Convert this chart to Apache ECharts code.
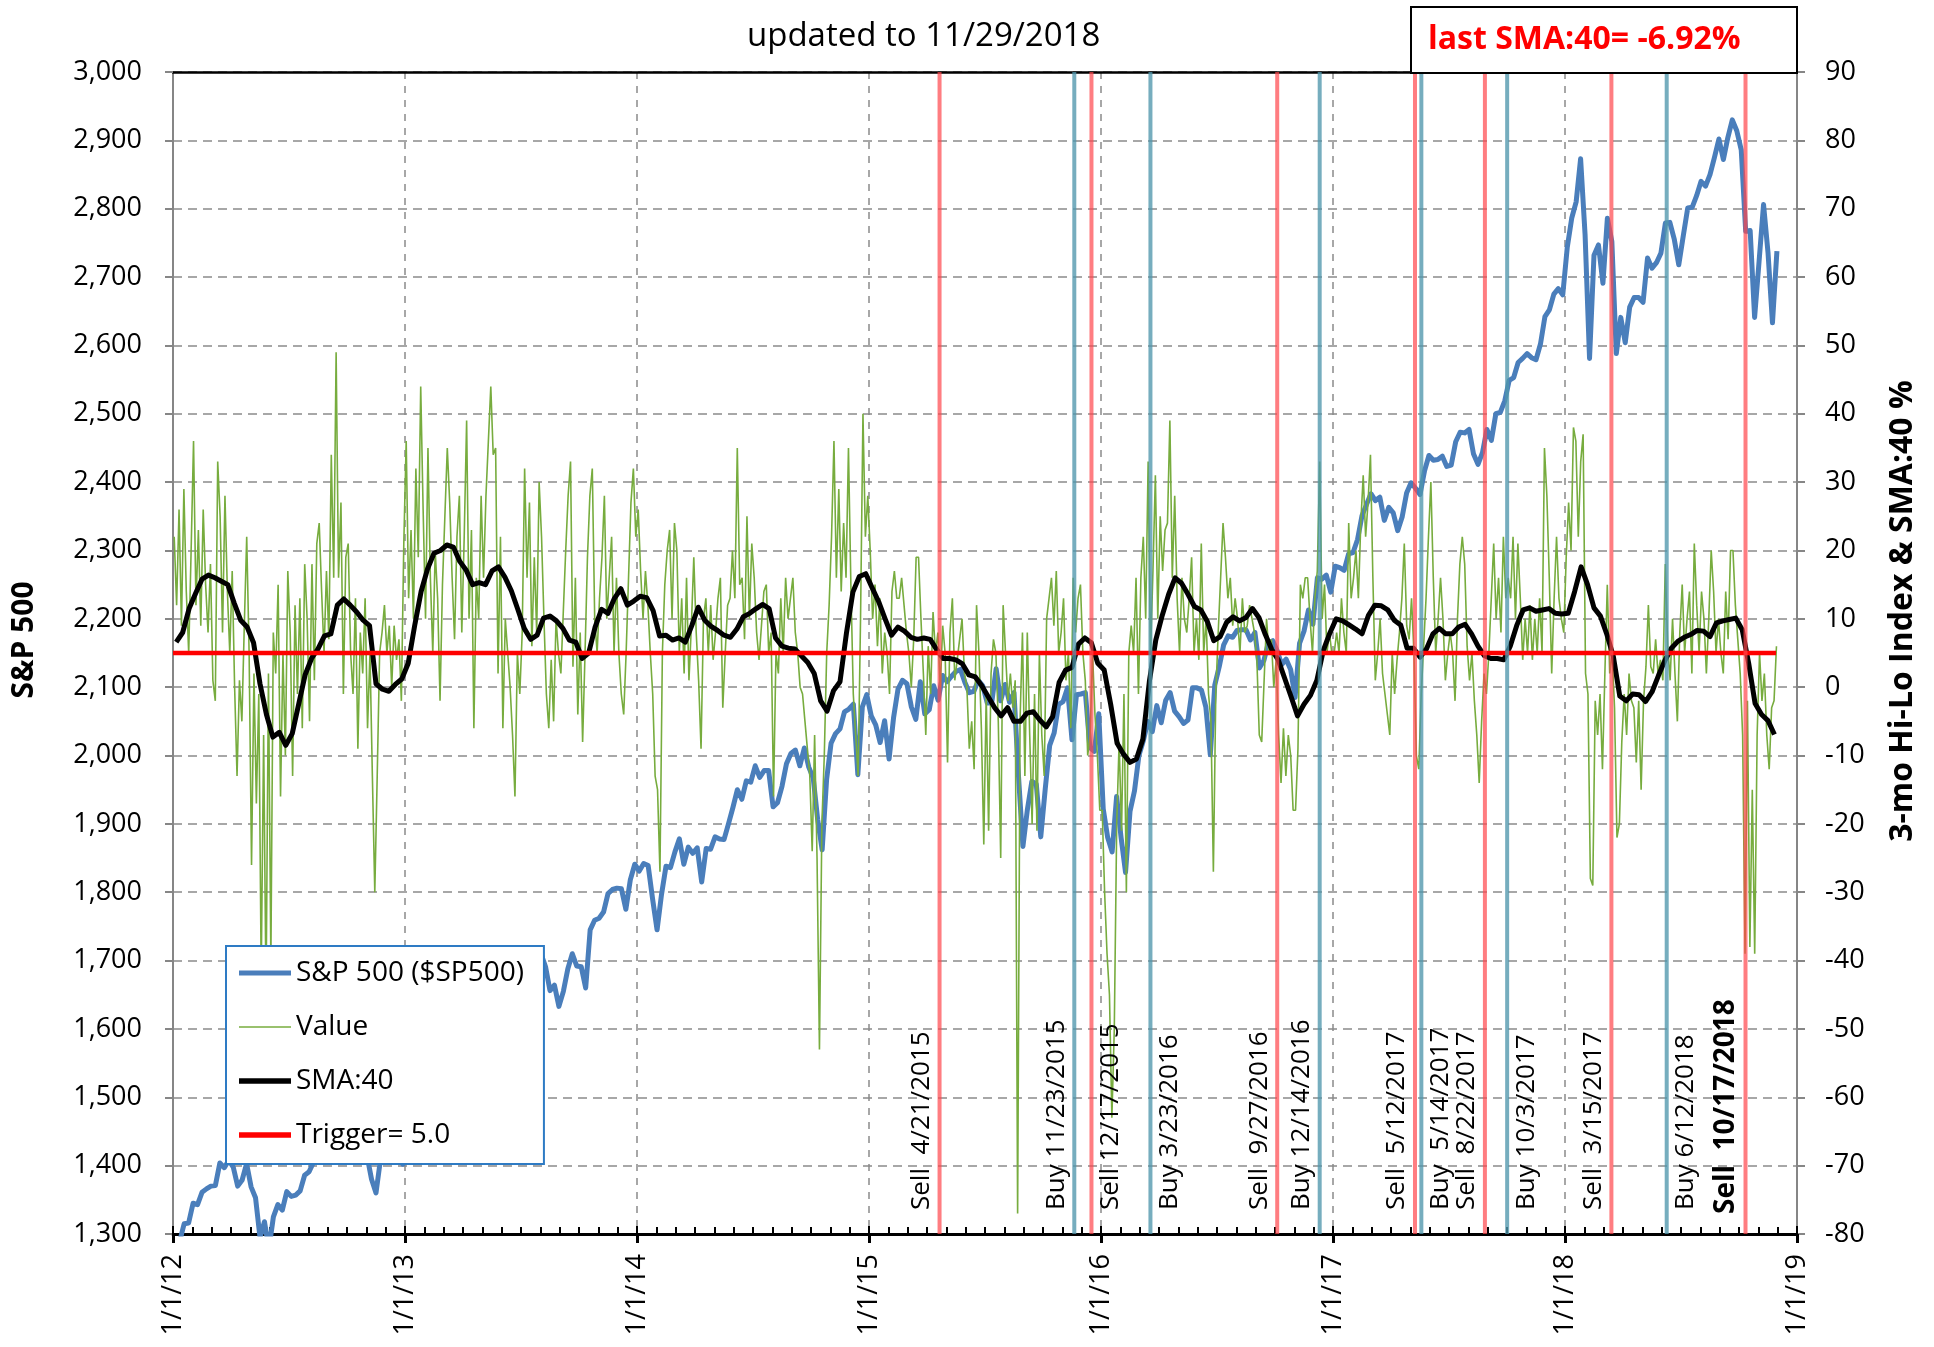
<!DOCTYPE html>
<html>
<head>
<meta charset="utf-8">
<script src="https://cdn.jsdelivr.net/npm/echarts/dist/echarts.min.js"></script>
<style>html,body{margin:0;padding:0;background:#fff}#c{width:1934px;height:1347px}</style>
</head>
<body>
<div id="c"></div>
<script>
const FONT = '"Open Sans", "Noto Sans", "DejaVu Sans", sans-serif';
const lastDate = '2018-11-29';
const triggerLevel = 5.0;
const yearLabels = ['1/1/12','1/1/13','1/1/14','1/1/15','1/1/16','1/1/17','1/1/18','1/1/19'];

// S&P 500, weekly closes (52 per year)
const sp2012 = [1278,1289,1315,1316,1345,1343,1361,1366,1370,1371,1404,1397,1408,1398,1370,1379,1403,1369,1353,1295,1318,1278,1325,1343,1335,1362,1355,1357,1363,1386,1391,1405,1418,1411,1407,1438,1466,1460,1441,1461,1429,1433,1412,1414,1380,1360,1409,1416,1418,1413,1430,1402];
const sp2013 = [1466,1472,1486,1503,1513,1518,1519,1516,1518,1551,1561,1556,1569,1553,1588,1555,1582,1614,1633,1667,1649,1631,1643,1626,1580,1606,1632,1680,1692,1692,1710,1691,1656,1664,1633,1655,1688,1710,1692,1691,1660,1745,1759,1762,1771,1798,1804,1806,1805,1775,1818,1841];
const sp2014 = [1831,1842,1839,1790,1745,1797,1838,1836,1859,1878,1841,1866,1857,1865,1815,1864,1863,1881,1878,1877,1900,1924,1950,1936,1963,1961,1985,1968,1978,1978,1925,1931,1955,1988,2003,2008,1985,2011,1983,1967,1906,1862,1965,2018,2032,2039,2064,2068,2075,1972,2071,2089];
const sp2015 = [2058,2045,2019,2051,1995,2055,2097,2110,2105,2071,2053,2108,2061,2067,2102,2081,2117,2108,2116,2123,2126,2107,2092,2094,2110,2102,2077,2077,2127,2080,2104,2078,2092,1971,1867,1921,1962,1958,1881,1951,2015,2033,2075,2079,2099,2023,2089,2090,2092,2012,2006,2061];
const sp2016 = [1922,1880,1859,1940,1880,1829,1918,1948,2000,2022,2050,2035,2073,2048,2081,2092,2065,2057,2047,2052,2099,2099,2096,2071,2001,2103,2130,2162,2175,2173,2183,2184,2184,2169,2180,2128,2139,2165,2168,2153,2133,2141,2126,2085,2164,2182,2213,2192,2260,2258,2264,2239];
const sp2017 = [2277,2275,2271,2295,2297,2316,2351,2367,2383,2373,2378,2344,2363,2355,2329,2349,2384,2399,2391,2382,2416,2439,2432,2433,2438,2423,2425,2459,2473,2472,2477,2441,2426,2443,2477,2461,2500,2502,2519,2549,2553,2575,2581,2588,2582,2579,2602,2642,2652,2675,2683,2674];
const sp2018 = [2743,2786,2810,2873,2762,2581,2732,2747,2691,2786,2752,2588,2641,2604,2656,2670,2670,2663,2728,2713,2721,2735,2779,2780,2755,2718,2760,2801,2802,2819,2840,2833,2850,2875,2902,2872,2904,2930,2914,2886,2767,2768,2641,2723,2806,2736,2633,2738];

// 3-mo Hi-Lo Index "Value" (96 per year)
const val2012 = [22,12,26,9,29,14,5,20, 36,12,23,9,26,15,8,18, 1,-2,33,25,8,28,14,5, 17,0,-13,1,-5,9,22,5, -26,2,-17,-1,-42,-7,-45,2, -40,8,2,15,-16,5,-10,17, 8,-13,12,-1,13,-6,18,10, -5,18,1,21,24,14,5,17, 7,34,16,49,16,27,-1,19, 21,5,-1,13,-9,8,2,13, -6,5,-13,-30,-13,5,8,12, 5,9,0,9,4,7,-2,21];
const val2013 = [36,13,23,10,32,19,44,26, 10,35,16,5,20,13,-2,15, 25,35,27,16,7,22,28,8, 22,39,10,23,-6,16,10,28, 16,28,36,44,34,35,2,22, -6,10,5,0,-7,-16,5,-1, 8,32,16,27,6,19,8,30, 22,10,-1,-6,4,-5,10,5, 2,11,20,28,33,3,16,-4, 8,-8,5,19,28,32,10,5, 13,19,28,10,16,22,5,16, 5,-1,-4,5,16,27,32,22];
const val2014 = [26,17,10,17,12,5,-1,-13, -15,-27,5,15,20,23,10,24, 20,5,13,2,16,1,9,19, 8,1,-9,10,13,5,12,4, 8,13,16,-3,5,12,13,20, 13,35,15,16,7,25,10,21, 16,8,4,9,14,15,5,8, -16,5,2,13,5,16,10,13, 16,8,5,0,-1,-5,-9,-13, -24,-7,-25,-53,-20,-10,5,12, 22,36,16,29,14,24,16,35, 15,-1,-7,-13,10,40,22,28];
const val2015 = [20,10,15,6,13,2,8,5, -1,14,17,13,13,16,12,8, 5,0,7,19,19,10,2,-7, 6,-1,11,5,8,0,9,5, -11,8,13,1,4,7,10,2, 0,-9,-5,-12,12,5,-6,-23, -1,-21,2,7,5,-5,-25,12, 5,-2,2,-3,1,-77,-5,8, -13,8,-7,-20,-1,-21,5,-7, -13,10,13,16,9,17,5,8, 13,1,5,-6,16,8,13,15, 5,1,-10,-7,5,-4,-10,-18];
const val2016 = [-18,-30,-39,-45,-63,-50,-20,-8, -21,-1,-30,5,9,5,16,-1, 16,22,10,33,5,17,31,10, 25,17,23,24,39,16,28,13, 5,16,10,8,13,19,5,10, 4,21,5,10,-1,-5,-27,-1, 8,16,24,19,13,16,9,13, 10,5,13,8,9,12,10,8, 4,-7,-8,1,10,5,7,0, 4,-7,-14,-6,-13,-7,-10,-18, -18,-9,15,13,16,16,10,5, 13,17,33,10,15,5,8,5];
const val2017 = [5,8,5,13,8,5,24,13, 16,20,13,24,31,22,27,34, 16,1,5,10,2,-1,-4,-7, 5,-1,4,8,13,21,9,7, 13,5,-10,-12,-1,6,13,22, 30,16,5,10,16,10,1,5, 8,5,-2,10,18,22,18,6, 1,5,-2,-7,-14,-5,2,-1, 5,13,21,10,16,8,22,13, 16,13,22,10,21,13,4,10, 5,12,4,10,5,13,5,35, 28,16,2,13,22,13,10,8];
const val2018 = [19,27,20,38,36,22,33,37, 2,-1,-28,-29,-2,-7,-1,-12, 2,15,2,5,-3,-22,-20,-8, -1,-7,2,-2,-3,-11,-2,-15, -2,3,12,3,2,7,2,4, 1,18,6,1,10,2,-5,8, 15,5,10,14,2,21,12,5, 14,10,2,10,20,14,5,10, 5,2,14,7,20,20,12,7, 2,-7,-39,-2,-38,-15,-39,-7, 5,-2,2,-7,-12,-3,-2,6];

// SMA:40 (36 per year)
const sma2012 = [6.6,8.0,11.5,13.7,15.8,16.4,16.0,15.5,15.0,12.3,9.8,8.8,6.5,0.5,-4.0,-7.3,-6.6,-8.5,-6.8,-2.5,1.8,4.2,5.6,7.5,7.8,12.0,12.9,12.0,11.0,9.8,9.0,0.5,-0.3,-0.6,0.4,1.2];
const sma2013 = [3.5,9.0,14.0,17.3,19.6,20.0,20.8,20.5,18.4,17.1,15.0,15.3,15.0,17.0,17.6,16.1,14.1,11.4,8.6,7.0,7.6,10.1,10.4,9.7,8.6,6.9,6.6,4.2,5.0,8.8,11.4,10.8,13.0,14.4,12.0,12.6];
const sma2014 = [13.3,13.1,11.2,7.5,7.6,6.9,7.2,6.6,9.0,11.7,9.8,8.9,8.3,7.6,7.3,8.5,10.3,10.8,11.5,12.1,11.5,7.2,6.0,5.7,5.6,4.6,3.6,2.0,-2.0,-3.5,-0.5,0.8,7.9,13.9,16.2,16.6];
const sma2015 = [14.5,12.5,10.0,7.6,8.8,8.2,7.3,7.0,7.2,7.0,5.5,4.2,4.2,4.0,3.4,1.8,1.5,0.2,-1.4,-3.0,-4.2,-3.0,-5.0,-5.0,-3.8,-3.6,-4.8,-5.8,-4.3,0.7,2.5,2.9,6.3,7.2,6.5,3.5];
const sma2016 = [2.5,-2.5,-8.2,-9.8,-11.0,-10.5,-7.6,0.8,6.9,10.5,13.6,16.0,15.2,13.6,11.8,11.3,9.6,6.8,7.4,9.5,10.3,9.7,10.2,11.5,10.2,7.7,5.5,4.0,1.3,-1.4,-4.2,-2.5,-1.2,1.0,5.4,7.9];
const sma2017 = [10.0,9.7,9.1,8.5,7.8,10.5,12.0,11.9,11.3,9.8,9.1,5.7,5.7,4.4,5.6,7.8,8.6,7.8,7.8,8.8,9.2,7.8,6.0,4.6,4.2,4.2,4.0,6.0,9.0,11.3,11.6,11.1,11.3,11.5,10.8,10.7];
const sma2018 = [10.8,14.0,17.6,15.0,11.6,10.4,7.7,4.5,-1.3,-2.0,-1.0,-1.1,-2.1,-0.7,1.7,3.9,5.7,6.7,7.3,7.7,8.3,8.2,7.4,9.4,9.7,9.9,10.1,8.4,3.5,-2.4,-4.0,-4.9,-6.92];

// Buy / Sell signals
const signalDates  = ['2015-04-22','2015-11-20','2015-12-17','2016-03-19','2016-10-05','2016-12-11','2017-05-10','2017-05-20','2017-08-28','2017-10-02','2018-03-15','2018-06-10','2018-10-12'];
const signalKinds  = ['Sell','Buy','Sell','Buy','Sell','Buy','Sell','Buy','Sell','Buy','Sell','Buy','Sell'];
const signalLabels = ['Sell  4/21/2015','Buy 11/23/2015','Sell 12/17/2015','Buy 3/23/2016','Sell  9/27/2016','Buy 12/14/2016','Sell  5/12/2017','Buy  5/14/2017','Sell  8/22/2017','Buy 10/3/2017','Sell  3/15/2017','Buy 6/12/2018','Sell  10/17/2018'];

// label placement beside each signal line (layout only)
const labelSide = ['L','L','R','R','L','L','L','R','L','R','L','R','L'];

function yearPos(s) {
  const [y, m, d] = s.split('-').map(Number);
  const a = Date.UTC(y, 0, 1), b = Date.UTC(y + 1, 0, 1);
  return (y - 2012) + (Date.UTC(y, m - 1, d) - a) / (b - a);
}
function build(years, perYear) {
  const out = [];
  years.forEach((arr, k) => arr.forEach((v, i) => out.push([k + (i + 0.5) / perYear, v])));
  return out;
}
const spData  = build([sp2012, sp2013, sp2014, sp2015, sp2016, sp2017, sp2018], 52);
const valData = build([val2012, val2013, val2014, val2015, val2016, val2017, val2018], 96);
const smaData = build([sma2012, sma2013, sma2014, sma2015, sma2016, sma2017, sma2018], 36);
const trigData = [[yearPos('2012-01-01'), triggerLevel], [yearPos(lastDate), triggerLevel]];
const sigData = signalDates.map(d => [yearPos(d), triggerLevel]);
const lastSma = sma2018[sma2018.length - 1];
const [ly, lm, ld] = lastDate.split('-').map(Number);
const titleText = 'updated to ' + lm + '/' + ld + '/' + ly;
const trigName = 'Trigger= ' + triggerLevel.toFixed(1);

const chart = echarts.init(document.getElementById('c'), null, {renderer: 'canvas'});
const gridLine = {color: '#8a8a8a', width: 1.5, type: [9, 6]};
chart.setOption({
  animation: false,
  backgroundColor: '#fff',
  textStyle: {fontFamily: FONT},
  grid: {left: 173, right: 137, top: 72, bottom: 113, containLabel: false, outerBoundsMode: 'none'},
  title: {text: titleText, left: 742, top: 15, textStyle: {fontFamily: FONT, fontSize: 33, fontWeight: 'normal', color: '#000'}},
  legend: {
    orient: 'vertical', left: 226, top: 946, padding: [12, 20, 14, 13], itemGap: 24,
    itemWidth: 52, itemHeight: 14, backgroundColor: '#fff', borderColor: '#2E7BC4', borderWidth: 2, z: 20,
    textStyle: {fontFamily: FONT, fontSize: 28, color: '#000', lineHeight: 30},
    itemStyle: {borderWidth: 0},
    data: [
      {name: 'S&P 500 ($SP500)', icon: 'path://M0,0H52V5H0Z'},
      {name: 'Value', icon: 'path://M0,0H52V1.6H0Z'},
      {name: 'SMA:40', icon: 'path://M0,0H52V5.5H0Z'},
      {name: trigName, icon: 'path://M0,0H52V5.5H0Z'}
    ]
  },
  xAxis: [
    {type: 'value', min: 0, max: 7, interval: 1, position: 'bottom',
     axisLine: {show: true, onZero: false, lineStyle: {color: '#000', width: 3}},
     axisTick: {show: true, inside: true, length: 8, lineStyle: {color: '#000', width: 2}},
     minorTick: {show: true, splitNumber: 12, length: 7, lineStyle: {color: '#000', width: 2}},
     axisLabel: {rotate: 90, margin: 20, formatter: v => yearLabels[v], fontSize: 27, fontFamily: FONT, color: '#000'},
     splitLine: {show: true, lineStyle: {color: '#8a8a8a', width: 1.5, type: [7, 7]}}},
    {type: 'value', min: 0, max: 7, interval: 1, position: 'bottom',
     axisLine: {show: false, onZero: false}, axisTick: {show: true, inside: false, length: 9, lineStyle: {color: '#000', width: 3}},
     axisLabel: {show: false}, splitLine: {show: false}},
    {type: 'value', min: 0, max: 7, interval: 1, position: 'top',
     axisLine: {show: true, onZero: false, lineStyle: {color: '#000', width: 2.5}}, axisTick: {show: false},
     axisLabel: {show: false}, splitLine: {show: false}}
  ],
  yAxis: [
    {type: 'value', min: 1300, max: 3000, interval: 100, position: 'left',
     axisLine: {show: true, onZero: false, lineStyle: {color: '#868686', width: 2}},
     axisTick: {show: true, length: 8, lineStyle: {color: '#868686', width: 2}},
     axisLabel: {margin: 31, fontSize: 27, fontFamily: FONT, color: '#000', formatter: v => v.toLocaleString('en-US')},
     splitLine: {show: true, lineStyle: gridLine},
     name: 'S&P 500', nameLocation: 'middle', nameRotate: 90, nameGap: 134, nameMoveOverlap: false,
     nameTextStyle: {fontFamily: FONT, fontSize: 30, fontWeight: 'bold', color: '#000', padding: [0, 0, 0, 26]}},
    {type: 'value', min: -80, max: 90, interval: 10, position: 'right',
     axisLine: {show: true, onZero: false, lineStyle: {color: '#868686', width: 2}},
     axisTick: {show: true, length: 8, lineStyle: {color: '#868686', width: 2}},
     axisLabel: {margin: 28, fontSize: 27, fontFamily: FONT, color: '#000'},
     splitLine: {show: false},
     name: '3-mo Hi-Lo Index & SMA:40 %', nameLocation: 'middle', nameRotate: 90, nameGap: 90, nameMoveOverlap: false,
     nameTextStyle: {fontFamily: FONT, fontSize: 32, fontWeight: 'bold', color: '#000', padding: [0, 0, 0, 84]}}
  ],
  graphic: [
    {type: 'rect', left: 1410, top: 6, z: 100, shape: {width: 386, height: 66}, style: {fill: '#fff', stroke: '#000', lineWidth: 2}},
    {type: 'text', left: 1428, top: 24, z: 101, style: {text: 'last SMA:40= ' + lastSma.toFixed(2) + '%', font: 'bold 32px ' + FONT, fill: '#FF0000'}}
  ],
  series: [
    {name: 'S&P 500 ($SP500)', type: 'line', xAxisIndex: 0, yAxisIndex: 0, data: spData, symbol: 'none', color: '#4A7EBB',
     lineStyle: {width: 5, color: '#4A7EBB', join: 'round'}, z: 2, silent: true, clip: true},
    {name: 'Value', type: 'line', xAxisIndex: 0, yAxisIndex: 1, data: valData, symbol: 'none', color: '#77AC3E',
     lineStyle: {width: 1.6, color: '#77AC3E'}, z: 3, silent: true, clip: true},
    {name: 'SMA:40', type: 'line', xAxisIndex: 0, yAxisIndex: 1, data: smaData, symbol: 'none', color: '#000',
     lineStyle: {width: 5, color: '#000', join: 'round'}, z: 4, silent: true, clip: true},
    {name: trigName, type: 'line', xAxisIndex: 0, yAxisIndex: 1, data: trigData, symbol: 'none', color: '#FF0000',
     lineStyle: {width: 4.5, color: '#FF0000'}, z: 5, silent: true},
    {type: 'custom', xAxisIndex: 0, yAxisIndex: 1, data: sigData, z: 6, silent: true,
     renderItem: function (params, api) {
       const i = params.dataIndex;
       const x = api.value(0);
       const top = api.coord([x, 90]);
       const bot = api.coord([x, -80]);
       const sell = signalKinds[i] === 'Sell';
       const bold = i === signalLabels.length - 1;
       const right = labelSide[i] === 'R';
       const va = right ? 'top' : 'bottom';
       return {type: 'group', children: [
         {type: 'line', shape: {x1: top[0], y1: top[1], x2: bot[0], y2: bot[1]},
          style: {stroke: sell ? 'rgba(255,70,75,0.7)' : 'rgba(80,150,172,0.78)', lineWidth: 4}},
         {type: 'text', x: bot[0] + (right ? 6 : -5), y: bot[1] - (bold ? 20 : 24), rotation: Math.PI / 2,
          style: {text: signalLabels[i], font: (bold ? 'bold 28px ' : '26px ') + FONT, fill: '#000',
                  align: 'left', verticalAlign: va, textAlign: 'left', textVerticalAlign: va}}
       ]};
     }}
  ]
});
</script>
</body>
</html>
